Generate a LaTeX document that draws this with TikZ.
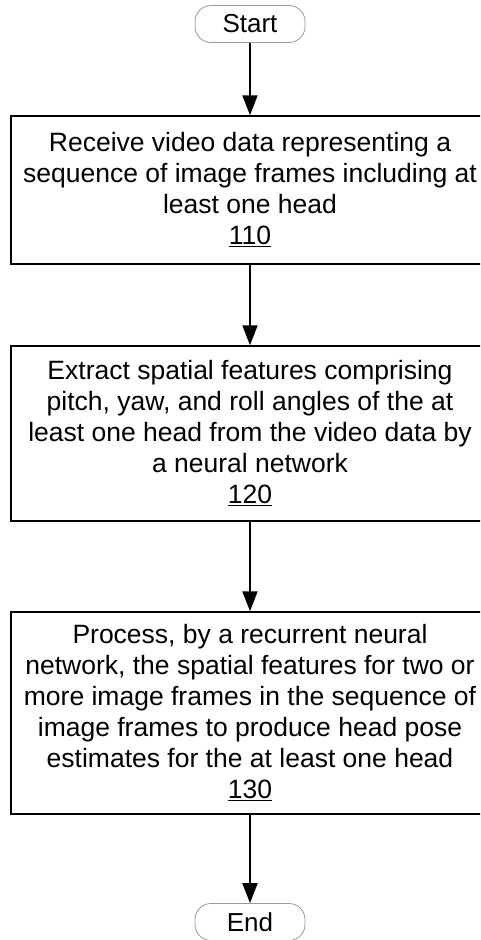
\documentclass[tikz,border=0pt]{standalone}
\usepackage{fontspec}
\setmainfont{Liberation Sans}
\usetikzlibrary{arrows.meta}
\begin{document}
\begin{tikzpicture}[x=1pt,y=-1pt,
  stepbox/.style={draw, line width=1.5pt, minimum width=478pt, align=center,
    font=\fontsize{26.5}{31}\selectfont, inner sep=0pt},
  term/.style={draw=gray!80, line width=0.8pt, rounded corners=16pt,
    minimum width=110pt, minimum height=37pt, inner sep=0pt,
    font=\fontsize{26}{28}\selectfont},
  arr/.style={-{Triangle[length=20pt,width=15pt]}, line width=2pt}]
\useasboundingbox (0,0) rectangle (480,940);
\clip (0,0) rectangle (480,940);
\node[term] (start) at (250,24) {Start};
\node[stepbox, minimum height=148pt] (b1) at (250,190)
  {Receive video data representing a\\
   sequence of image frames including at\\
   least one head\\
   \underline{110}};
\node[stepbox, minimum height=175pt] (b2) at (250,433.5)
  {Extract spatial features comprising\\
   pitch, yaw, and roll angles of the at\\
   least one head from the video data by\\
   a neural network\\
   \underline{120}};
\node[stepbox, minimum height=202pt] (b3) at (250,713)
  {Process, by a recurrent neural\\
   network, the spatial features for two or\\
   more image frames in the sequence of\\
   image frames to produce head pose\\
   estimates for the at least one head\\
   \underline{130}};
\node[term] (end) at (250,922) {End};
\draw[arr] (start) -- (b1);
\draw[arr] (b1) -- (b2);
\draw[arr] (b2) -- (b3);
\draw[arr] (b3) -- (end);
\end{tikzpicture}
\end{document}
